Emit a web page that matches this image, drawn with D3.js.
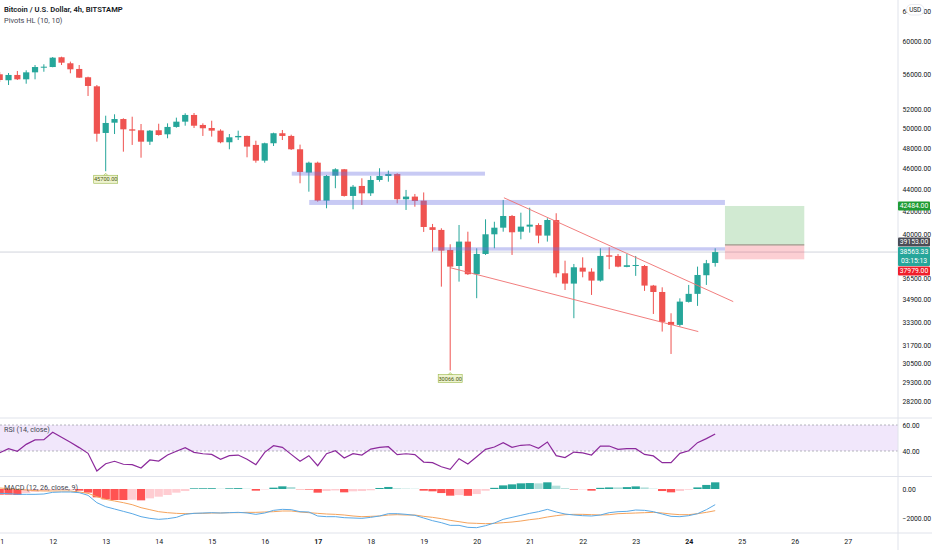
<!DOCTYPE html>
<html>
<head>
<meta charset="utf-8">
<script src="https://cdn.jsdelivr.net/npm/d3@7"></script>
<style>
  body { margin: 0; background: #fff; }
  svg { display: block; font-family: Roboto, "Noto Sans", sans-serif; }
</style>
</head>
<body>
<svg id="chart"></svg>
<script>
// BTC/USD 4h candles (Bitstamp), first bar 11 May 2021 00:00 UTC
const opens = [
  56030, 55330, 55950, 55440, 56260, 56810, 56890, 58070, 57340, 56660,
  55680, 54630, 49530, 50610, 51000, 49910, 49810, 48630, 49810, 49390,
  50160, 50720, 51440, 50370, 50050, 49770, 48570, 49080, 49220, 48300,
  46730, 48470, 49500, 49220, 47860, 45570, 46530, 42960, 45280, 45890,
  43390, 44310, 43630, 44870, 45250, 45440, 43090, 43330, 42960, 40630,
  40400, 38735, 37450, 39420, 36810, 38410, 40030, 40590, 41600, 40250,
  40680, 40820, 39920, 41250, 36880, 36090, 37320, 37010, 36320, 38300,
  38250, 37380, 37450, 37450, 35940, 35460, 33300, 33090, 34730, 35320,
  36730, 37690
];
const highs = [
  56300, 56180, 56420, 56500, 57130, 57220, 58100, 58140, 57540, 57130,
  55750, 54780, 51360, 51510, 51080, 51250, 50470, 49840, 50500, 50540,
  51150, 51620, 51650, 50540, 50820, 49910, 49420, 49770, 49250, 48730,
  48530, 49560, 49840, 49350, 48330, 46630, 46630, 45345, 45990, 45920,
  44400, 45030, 45250, 45990, 45760, 45510, 43940, 43570, 43710, 40910,
  40540, 39200, 40820, 40250, 38870, 41310, 41100, 43025, 41690, 41890,
  42330, 40970, 41400, 41840, 37870, 37610, 38140, 37270, 38870, 38950,
  38410, 38410, 38250, 37530, 35990, 35810, 33910, 34990, 35990, 37400,
  37930, 38870
];
const lows = [
  55130, 54780, 55360, 54930, 55440, 56330, 56860, 57130, 56150, 55600,
  53530, 48630, 45700, 49420, 47620, 48300, 47020, 48300, 49250, 48980,
  50080, 50290, 50050, 49220, 49150, 48470, 47860, 48800, 47060, 46530,
  46530, 48190, 48800, 47790, 44560, 43780, 42870, 42280, 44100, 43330,
  42190, 42575, 43390, 44710, 44710, 42720, 42130, 42420, 40230, 38600,
  35860, 30066, 36240, 36750, 35000, 38330, 38870, 40250, 38330, 39610,
  40170, 39280, 39420, 36570, 35610, 33560, 36570, 35240, 36240, 37200,
  37350, 37350, 36680, 35540, 33860, 32630, 31130, 32970, 34680, 34440,
  35990, 37400
];
const closes = [
  55360, 55950, 55440, 56260, 56890, 56930, 58020, 57410, 56620, 55630,
  54670, 49450, 50580, 51000, 49910, 49770, 48630, 49770, 49320, 50160,
  50720, 51440, 50290, 50020, 49770, 48570, 49080, 49220, 48130, 46730,
  48470, 49500, 49220, 47860, 45630, 46530, 42960, 45250, 45890, 43390,
  44240, 43630, 44870, 45250, 45440, 43090, 43330, 42930, 40650, 40400,
  38680, 37400, 39420, 36810, 38410, 40030, 40590, 41600, 40200, 40680,
  40850, 39920, 41250, 36880, 36090, 37350, 37010, 36320, 38250, 38190,
  37400, 37510, 37530, 35940, 35460, 33300, 33090, 34750, 35320, 36750,
  37670, 38563.33
];

// RSI (14, close)
const rsi = [
  38.7, 41.8, 39.8, 45.1, 48.5, 48.7, 54.4, 50.5, 46.7, 42.6,
  38.2, 24.6, 30.2, 32.1, 29.8, 29.5, 26.9, 33.1, 32.3, 36.9,
  39.8, 42.6, 39.0, 37.9, 37.4, 33.6, 36.4, 36.9, 33.6, 29.5,
  39.0, 44.1, 42.8, 37.4, 32.1, 36.4, 28.7, 37.9, 40.2, 34.6,
  37.9, 36.9, 41.5, 42.8, 43.3, 37.2, 37.9, 37.2, 31.5, 31.0,
  27.9, 25.9, 34.1, 30.0, 35.6, 41.3, 43.1, 46.4, 42.8, 44.4,
  44.8, 42.1, 46.9, 36.4, 34.9, 39.2, 38.5, 36.9, 43.8, 43.8,
  41.3, 41.8, 41.8, 37.4, 36.2, 31.0, 31.0, 38.2, 40.2, 46.4,
  49.5, 53.1
];

// MACD (12, 26, close, 9)
const macdLine = [
  -299, -322, -368, -368, -368, -345, -230, -207, -207, -253,
  -437, -943, -1219, -1380, -1541, -1702, -1909, -2024, -2093, -2047,
  -1955, -1748, -1679, -1656, -1633, -1656, -1633, -1610, -1656, -1748,
  -1656, -1472, -1403, -1426, -1564, -1587, -1863, -1909, -1909, -1978,
  -2001, -2024, -1955, -1863, -1702, -1702, -1748, -1817, -2001, -2185,
  -2323, -2507, -2507, -2645, -2668, -2530, -2346, -2093, -1955, -1817,
  -1679, -1564, -1403, -1587, -1725, -1794, -1840, -1863, -1794, -1633,
  -1564, -1541, -1449, -1472, -1564, -1725, -1886, -1909, -1840, -1702,
  -1426, -1081
];
const signalLine = [
  69, 23, -23, -69, -115, -138, -138, -138, -138, -207,
  -299, -529, -713, -828, -943, -1081, -1288, -1426, -1564, -1633,
  -1679, -1702, -1679, -1679, -1656, -1656, -1633, -1633, -1610, -1610,
  -1587, -1564, -1518, -1518, -1587, -1633, -1679, -1725, -1748, -1794,
  -1863, -1909, -1886, -1863, -1794, -1771, -1794, -1794, -1886, -1955,
  -2047, -2162, -2254, -2346, -2369, -2392, -2369, -2323, -2277, -2208,
  -2116, -2047, -1932, -1840, -1771, -1748, -1748, -1771, -1794, -1771,
  -1702, -1679, -1656, -1633, -1610, -1656, -1725, -1771, -1771, -1702,
  -1610, -1495
];
const histogram = [
  -391, -391, -414, -280, -200, -140, -90, -70, -60, -115,
  -250, -575, -713, -760, -760, -740, -782, -644, -530, -414,
  -253, -140, 46, 50, 55, 20, 46, 60, 20, -115,
  -30, 92, 184, 138, -20, -40, -253, -140, -100, -230,
  -160, -140, -90, 70, 140, 50, 30, 20, -115, -160,
  -280, -460, -420, -470, -350, -120, 80, 250, 320, 390,
  410, 390, 460, 230, 60, -40, -30, -115, 80, 110,
  110, 130, 180, 110, 25, -140, -230, -140, -50, 110,
  280, 460
];

// pivot lows marked by "Pivots HL (10, 10)" (bar indexes)
const pivotLowBars = [12, 51];

// drawings: blue zones
const zoneFrom = ["2021-05-16T12:15Z", "2021-05-16T20:10Z", "2021-05-19T04:10Z"];
const zoneTo = ["2021-05-20T03:45Z", "2021-05-24T16:25Z", "2021-05-24T16:25Z"];
const zoneTop = [45660, 43025, 38955];
const zoneBottom = [45280, 42575, 38680];

// drawings: falling wedge lines
const trendFrom = ["2021-05-20T12:20Z", "2021-05-19T11:55Z"];
const trendFromPrice = [43225, 37320];
const trendTo = ["2021-05-24T20:10Z", "2021-05-24T04:20Z"];
const trendToPrice = [34750, 32630];

// long position tool
const positionFrom = "2021-05-24T16:25Z";
const positionTo = "2021-05-26T04:20Z";
const targetPrice = 42484;
const entryPrice = 39153;
const stopPrice = 37979;
const countdown = "03:15:13";

// axis ticks
const priceTicks = [64000, 60000, 56000, 52000, 50000, 48000, 46000, 44000, 42000, 40000,
  36500, 34900, 33300, 31700, 30500, 29300, 28200];
const rsiTicks = [60, 40];
const macdTicks = [0, -2000];

const W = 932, H = 550;
const plotRight = 898;
const mainBottom = 418, rsiBottom = 476.5, macdBottom = 533;

const green = "#26a69a", red = "#ef5350";
const textColor = "#131722";
const axisFont = 6.8;

const times = opens.map((_, i) => new Date(Date.UTC(2021, 4, 11) + i * 4 * 3600 * 1000));
const bars = opens.map((o, i) => ({ t: times[i], o, h: highs[i], l: lows[i], c: closes[i] }));

const svg = d3.select("#chart").attr("width", W).attr("height", H);
svg.append("rect").attr("width", W).attr("height", H).attr("fill", "#fff");

// scales
const x = d3.scaleUtc()
  .domain([new Date(Date.UTC(2021, 4, 11)), new Date(Date.UTC(2021, 4, 28))])
  .range([-0.3, 900.7]);
const y = d3.scaleLog().domain([28200, 60000]).range([401, 41.7]);
const yRsi = d3.scaleLinear().domain([40, 60]).range([451, 425]);
const yMacd = d3.scaleLinear().domain([-2000, 0]).range([518, 489]);
const barStep = x(times[1]) - x(times[0]);

// clip paths for the three panes
const defs = svg.append("defs");
[["clipMain", 0, mainBottom], ["clipRsi", mainBottom, rsiBottom], ["clipMacd", rsiBottom, macdBottom]]
  .forEach(([id, top, bottom]) => {
    defs.append("clipPath").attr("id", id).append("rect")
      .attr("x", 0).attr("y", top).attr("width", plotRight).attr("height", bottom - top);
  });

// ---------- main pane ----------
const main = svg.append("g").attr("clip-path", "url(#clipMain)");

// last price line
main.append("line")
  .attr("x1", 0).attr("x2", plotRight)
  .attr("y1", y(closes[closes.length - 1])).attr("y2", y(closes[closes.length - 1]))
  .attr("stroke", "#d1d4dc").attr("stroke-width", 1);

// candles
const bodyW = barStep * 0.7;
const candle = main.append("g").selectAll("g").data(bars).enter().append("g");
candle.append("line")
  .attr("x1", d => x(d.t)).attr("x2", d => x(d.t))
  .attr("y1", d => y(d.h)).attr("y2", d => y(d.l))
  .attr("stroke", d => d.c >= d.o ? green : red).attr("stroke-width", 1);
candle.append("rect")
  .attr("x", d => x(d.t) - bodyW / 2)
  .attr("width", bodyW)
  .attr("y", d => y(Math.max(d.o, d.c)))
  .attr("height", d => Math.max(1, Math.abs(y(d.o) - y(d.c))))
  .attr("fill", d => d.c >= d.o ? green : red);

// zones
zoneFrom.forEach((f, i) => {
  main.append("rect")
    .attr("x", x(new Date(f)))
    .attr("width", x(new Date(zoneTo[i])) - x(new Date(f)))
    .attr("y", y(zoneTop[i]))
    .attr("height", y(zoneBottom[i]) - y(zoneTop[i]))
    .attr("fill", "rgb(110,115,227)").attr("fill-opacity", 0.38);
});

// wedge lines
trendFrom.forEach((f, i) => {
  main.append("line")
    .attr("x1", x(new Date(f))).attr("y1", y(trendFromPrice[i]))
    .attr("x2", x(new Date(trendTo[i]))).attr("y2", y(trendToPrice[i]))
    .attr("stroke", "#ef6f6f").attr("stroke-width", 0.9);
});

// long position
const px1 = x(new Date(positionFrom)), px2 = x(new Date(positionTo));
main.append("rect")
  .attr("x", px1).attr("width", px2 - px1)
  .attr("y", y(targetPrice)).attr("height", y(entryPrice) - y(targetPrice))
  .attr("fill", "rgba(76,175,80,0.26)");
main.append("rect")
  .attr("x", px1).attr("width", px2 - px1)
  .attr("y", y(entryPrice)).attr("height", y(stopPrice) - y(entryPrice))
  .attr("fill", "rgba(242,54,69,0.24)");
main.append("line")
  .attr("x1", px1).attr("x2", px2)
  .attr("y1", y(entryPrice)).attr("y2", y(entryPrice))
  .attr("stroke", "#9e9a8c").attr("stroke-width", 1.2);

// pivot low labels
pivotLowBars.forEach(i => {
  const cx = x(times[i]), top = y(lows[i]) + 4;
  const g = main.append("g");
  g.append("path")
    .attr("d", `M${cx - 2.5},${top + 0.5}L${cx},${top - 2}L${cx + 2.5},${top + 0.5}Z`)
    .attr("fill", "#eef3cf").attr("stroke", "#9bb84a").attr("stroke-width", 0.6);
  g.append("rect")
    .attr("x", cx - 12).attr("y", top).attr("width", 24).attr("height", 8)
    .attr("fill", "#eef3cf").attr("stroke", "#9bb84a").attr("stroke-width", 0.6);
  g.append("text")
    .attr("x", cx).attr("y", top + 6)
    .attr("text-anchor", "middle").attr("font-size", 5.6).attr("fill", "#4a5a12")
    .text(d3.format(".2f")(lows[i]));
});

// ---------- RSI pane ----------
const rsiG = svg.append("g").attr("clip-path", "url(#clipRsi)");
rsiG.append("rect")
  .attr("x", 0).attr("width", plotRight)
  .attr("y", yRsi(60)).attr("height", yRsi(40) - yRsi(60))
  .attr("fill", "#f1e7fb");
rsiTicks.forEach(v => {
  rsiG.append("line")
    .attr("x1", 0).attr("x2", plotRight).attr("y1", yRsi(v)).attr("y2", yRsi(v))
    .attr("stroke", "#9598a1").attr("stroke-width", 0.7).attr("stroke-dasharray", "2,2");
});
rsiG.append("path")
  .datum(rsi)
  .attr("d", d3.line().x((d, i) => x(times[i])).y(d => yRsi(d)))
  .attr("fill", "none").attr("stroke", "#8c2a9c").attr("stroke-width", 1.2);

// ---------- MACD pane ----------
const macdG = svg.append("g").attr("clip-path", "url(#clipMacd)");
macdG.selectAll("rect.hist").data(histogram).enter().append("rect")
  .attr("class", "hist")
  .attr("x", (d, i) => x(times[i]) - barStep * 0.47)
  .attr("width", barStep * 0.94)
  .attr("y", d => yMacd(Math.max(0, d)))
  .attr("height", d => Math.abs(yMacd(d) - yMacd(0)))
  .attr("fill", (d, i) => {
    const prev = i > 0 ? histogram[i - 1] : d;
    if (d >= 0) return prev < d ? "#26a69a" : "#b2dfdb";
    return prev < d ? "#ffcdd2" : "#ff5252";
  });
const macdPath = d3.line().x((d, i) => x(times[i])).y(d => yMacd(d));
macdG.append("path").datum(signalLine).attr("d", macdPath)
  .attr("fill", "none").attr("stroke", "#f5a35c").attr("stroke-width", 1);
macdG.append("path").datum(macdLine).attr("d", macdPath)
  .attr("fill", "none").attr("stroke", "#5aa9e6").attr("stroke-width", 1);

// ---------- separators ----------
[mainBottom, rsiBottom, macdBottom].forEach(v => {
  svg.append("line").attr("x1", 0).attr("x2", W).attr("y1", v).attr("y2", v)
    .attr("stroke", "#e0e3eb").attr("stroke-width", 1);
});
svg.append("line").attr("x1", plotRight).attr("x2", plotRight).attr("y1", 0).attr("y2", H)
  .attr("stroke", "#e0e3eb").attr("stroke-width", 1);

// ---------- axes ----------
function styleAxis(g) {
  g.attr("font-size", null).attr("font-family", null);
  g.select(".domain").remove();
  g.selectAll("text").attr("font-size", axisFont).attr("fill", textColor);
}

svg.append("g").attr("transform", `translate(${plotRight},0)`)
  .call(d3.axisRight(y).tickValues(priceTicks).tickFormat(d3.format(".2f")).tickSize(0).tickPadding(4.5))
  .call(styleAxis);
svg.append("g").attr("transform", `translate(${plotRight},0)`)
  .call(d3.axisRight(yRsi).tickValues(rsiTicks).tickFormat(d3.format(".2f")).tickSize(0).tickPadding(4.5))
  .call(styleAxis);
svg.append("g").attr("transform", `translate(${plotRight},0)`)
  .call(d3.axisRight(yMacd).tickValues(macdTicks).tickFormat(d3.format(".2f")).tickSize(0).tickPadding(4.5))
  .call(styleAxis);

const days = d3.utcDay.range(new Date(Date.UTC(2021, 4, 11)), new Date(Date.UTC(2021, 4, 28)));
const gx = svg.append("g").attr("transform", `translate(0,${macdBottom})`)
  .call(d3.axisBottom(x).tickValues(days).tickFormat(d3.utcFormat("%-d")).tickSize(0).tickPadding(6))
  .call(styleAxis);
gx.selectAll("text").attr("font-size", 7)
  .attr("font-weight", d => d.getUTCDay() === 1 ? 700 : 400);

// "USD" badge over the top price label
svg.append("rect").attr("x", 906.5).attr("y", 4.5).attr("width", 17.5).attr("height", 10.5)
  .attr("rx", 5).attr("fill", "#fff").attr("stroke", "#e0e3eb").attr("stroke-width", 0.7);
svg.append("text").attr("x", 915.2).attr("y", 12.1).attr("text-anchor", "middle")
  .attr("font-size", 6.4).attr("fill", textColor).text("USD");

// ---------- price scale labels ----------
const fmt = d3.format(".2f");
const lastY = y(closes[closes.length - 1]);
function priceTag(top, h, fill, lines) {
  svg.append("rect").attr("x", plotRight).attr("y", top).attr("width", 32).attr("height", h)
    .attr("rx", 1).attr("fill", fill);
  lines.forEach((t, k) => {
    svg.append("text").attr("x", plotRight + 16).attr("y", top + 6.6 + k * 9)
      .attr("text-anchor", "middle").attr("font-size", axisFont).attr("fill", "#fff").text(t);
  });
}
priceTag(y(targetPrice) - 4.5, 9, "#1f9c35", [fmt(targetPrice)]);
priceTag(lastY - 5, 19, green, [fmt(closes[closes.length - 1]), countdown]);
priceTag(lastY - 5 - 9.5, 9, "#4a4c55", [fmt(entryPrice)]);
priceTag(lastY - 5 + 19.5, 9, "#f01e2a", [fmt(stopPrice)]);

// ---------- legends ----------
svg.append("text").attr("x", 4).attr("y", 12).attr("font-size", 7.6).attr("font-weight", 600)
  .attr("fill", textColor).text("Bitcoin / U.S. Dollar, 4h, BITSTAMP");
svg.append("text").attr("x", 4).attr("y", 23).attr("font-size", 7.4)
  .attr("fill", "#434651").text("Pivots HL (10, 10)");
svg.append("text").attr("x", 4).attr("y", 432).attr("font-size", 7.2)
  .attr("fill", "#434651").text("RSI (14, close)");
svg.append("text").attr("x", 4).attr("y", 489.5).attr("font-size", 7.2)
  .attr("fill", "#434651").text("MACD (12, 26, close, 9)");
</script>
</body>
</html>
